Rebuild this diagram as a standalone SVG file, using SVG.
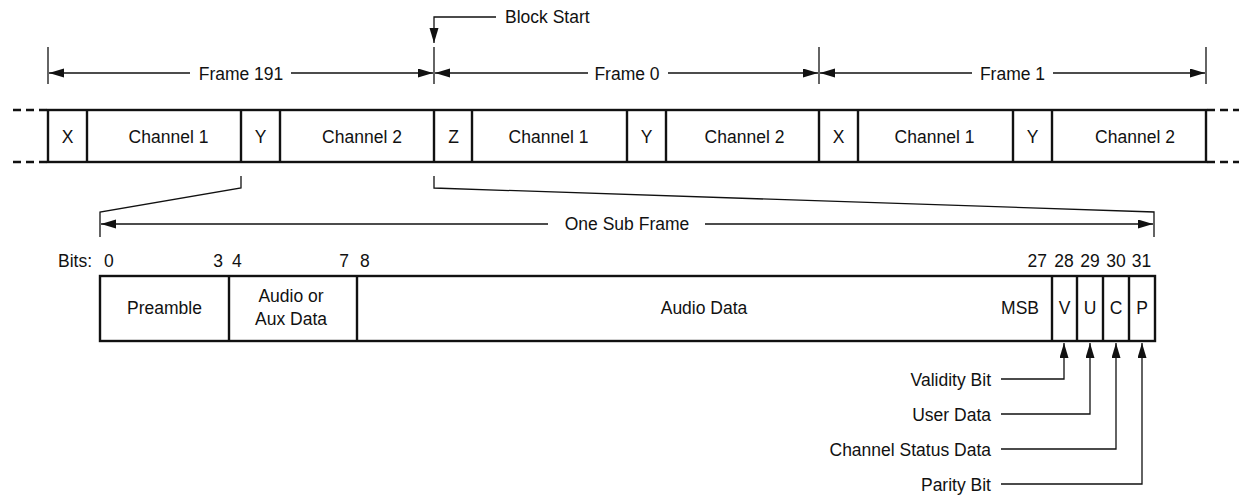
<svg xmlns="http://www.w3.org/2000/svg" width="1239" height="497" viewBox="0 0 1239 497">
<style>
text{font-family:"Liberation Sans",Arial,sans-serif;font-size:17.5px;fill:#111}
.m{text-anchor:middle}
.e{text-anchor:end}
.box{fill:#fff;stroke:#111;stroke-width:2.4}
.div{stroke:#111;stroke-width:2.4}
.thin{stroke:#111;stroke-width:1.3;fill:none}
.dash{stroke:#111;stroke-width:2.4;stroke-dasharray:8 5}
</style>
<defs>
<marker id="ah" markerUnits="userSpaceOnUse" markerWidth="16" markerHeight="10" refX="15" refY="4.5" orient="auto">
<path d="M0,0 L15,4.5 L0,9 z" fill="#111"/>
</marker>
</defs>

<g id="frames-row">
<line class="dash" x1="47" y1="110" x2="10" y2="110"/>
<line class="dash" x1="47" y1="162" x2="10" y2="162"/>
<line class="dash" x1="1207" y1="110" x2="1239" y2="110"/>
<line class="dash" x1="1207" y1="162" x2="1239" y2="162"/>
<rect class="box" x="48" y="110" width="1158" height="52"/>
<line class="div" x1="87" y1="110" x2="87" y2="162"/>
<line class="div" x1="241" y1="110" x2="241" y2="162"/>
<line class="div" x1="280" y1="110" x2="280" y2="162"/>
<line class="div" x1="434" y1="110" x2="434" y2="162"/>
<line class="div" x1="472" y1="110" x2="472" y2="162"/>
<line class="div" x1="627" y1="110" x2="627" y2="162"/>
<line class="div" x1="666" y1="110" x2="666" y2="162"/>
<line class="div" x1="819" y1="110" x2="819" y2="162"/>
<line class="div" x1="858" y1="110" x2="858" y2="162"/>
<line class="div" x1="1013" y1="110" x2="1013" y2="162"/>
<line class="div" x1="1052" y1="110" x2="1052" y2="162"/>
<text class="m" x="67.5" y="142.5">X</text>
<text class="m" x="168.5" y="142.5">Channel 1</text>
<text class="m" x="260.5" y="142.5">Y</text>
<text class="m" x="362" y="142.5">Channel 2</text>
<text class="m" x="453.5" y="142.5">Z</text>
<text class="m" x="548.5" y="142.5">Channel 1</text>
<text class="m" x="646.5" y="142.5">Y</text>
<text class="m" x="744.5" y="142.5">Channel 2</text>
<text class="m" x="838.5" y="142.5">X</text>
<text class="m" x="934.5" y="142.5">Channel 1</text>
<text class="m" x="1032.5" y="142.5">Y</text>
<text class="m" x="1135" y="142.5">Channel 2</text>
</g>

<g id="frame-dimensions">
<line class="thin" x1="48" y1="47" x2="48" y2="84"/>
<line class="thin" x1="434" y1="47" x2="434" y2="84"/>
<line class="thin" x1="819" y1="47" x2="819" y2="84"/>
<line class="thin" x1="1206" y1="47" x2="1206" y2="84"/>
<line class="thin" x1="190" y1="73" x2="49" y2="73" marker-end="url(#ah)"/>
<line class="thin" x1="291" y1="73" x2="433" y2="73" marker-end="url(#ah)"/>
<text class="m" x="241" y="79.5">Frame 191</text>
<line class="thin" x1="588" y1="73" x2="435" y2="73" marker-end="url(#ah)"/>
<line class="thin" x1="668" y1="73" x2="818" y2="73" marker-end="url(#ah)"/>
<text class="m" x="627" y="79.5">Frame 0</text>
<line class="thin" x1="972" y1="73" x2="820" y2="73" marker-end="url(#ah)"/>
<line class="thin" x1="1053" y1="73" x2="1205" y2="73" marker-end="url(#ah)"/>
<text class="m" x="1012.5" y="79.5">Frame 1</text>
</g>

<g id="block-start">
<polyline class="thin" points="496,17 434,17 434,43" marker-end="url(#ah)"/>
<text x="505" y="23">Block Start</text>
</g>

<g id="connectors">
<polyline class="thin" points="241,176 241,188 100,212 100,237"/>
<polyline class="thin" points="434,176 434,188 1154,212 1154,237"/>
<line class="thin" x1="548" y1="224" x2="101" y2="224" marker-end="url(#ah)"/>
<line class="thin" x1="705" y1="224" x2="1153" y2="224" marker-end="url(#ah)"/>
<text class="m" x="627" y="230">One Sub Frame</text>
</g>

<g id="bit-numbers">
<text x="58" y="267">Bits:</text>
<text x="104" y="267">0</text>
<text class="e" x="223" y="267">3</text>
<text x="232" y="267">4</text>
<text class="e" x="349" y="267">7</text>
<text x="360" y="267">8</text>
<text class="e" x="1047" y="267">27</text>
<text class="m" x="1064" y="267">28</text>
<text class="m" x="1090" y="267">29</text>
<text class="m" x="1116" y="267">30</text>
<text class="m" x="1141.5" y="267">31</text>
</g>

<g id="sub-frame">
<rect class="box" x="100" y="276" width="1055" height="65"/>
<line class="div" x1="229" y1="276" x2="229" y2="341"/>
<line class="div" x1="357" y1="276" x2="357" y2="341"/>
<line class="div" x1="1052" y1="276" x2="1052" y2="341"/>
<line class="div" x1="1077" y1="276" x2="1077" y2="341"/>
<line class="div" x1="1103" y1="276" x2="1103" y2="341"/>
<line class="div" x1="1129" y1="276" x2="1129" y2="341"/>
<text class="m" x="164.5" y="314">Preamble</text>
<text class="m" x="291" y="302">Audio or</text>
<text class="m" x="291" y="325">Aux Data</text>
<text class="m" x="704" y="314">Audio Data</text>
<text class="e" x="1039" y="314">MSB</text>
<text class="m" x="1064.5" y="314">V</text>
<text class="m" x="1090" y="314">U</text>
<text class="m" x="1116" y="314">C</text>
<text class="m" x="1142" y="314">P</text>
</g>

<g id="callouts">
<polyline class="thin" points="1001,379 1064,379 1064,343" marker-end="url(#ah)"/>
<text class="e" x="991" y="385.5">Validity Bit</text>
<polyline class="thin" points="1001,414 1090,414 1090,343" marker-end="url(#ah)"/>
<text class="e" x="991" y="420.5">User Data</text>
<polyline class="thin" points="1001,449 1116,449 1116,343" marker-end="url(#ah)"/>
<text class="e" x="991" y="455.5">Channel Status Data</text>
<polyline class="thin" points="1001,484 1142,484 1142,343" marker-end="url(#ah)"/>
<text class="e" x="991" y="490.5">Parity Bit</text>
</g>
</svg>
